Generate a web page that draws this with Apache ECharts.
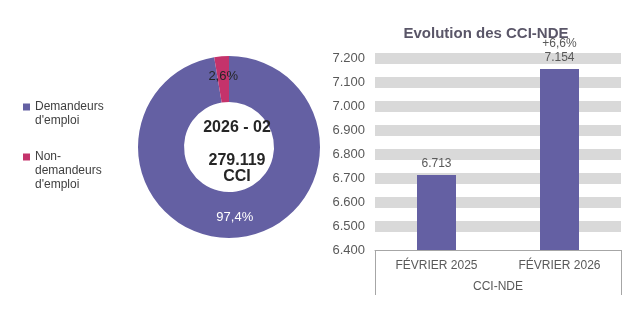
<!DOCTYPE html>
<html><head><meta charset="utf-8">
<script src="https://cdn.jsdelivr.net/npm/echarts@6/dist/echarts.min.js"></script>
<style>html,body{margin:0;padding:0;background:#fff}#c{width:643px;height:321px}</style>
</head><body><div id="c"></div>
<script>
const pieNames = ["Demandeurs d'emploi", "Non-demandeurs d'emploi"];
const pieValues = [97.4, 2.6];
const pieLabels = ["97,4%", "2,6%"];
const centerLines = ["2026 - 02", "279.119", "CCI"];
const barCategories = ["FÉVRIER 2025", "FÉVRIER 2026"];
const barValues = [6713, 7154];
const barLabels = ["6.713", "+6,6%\n7.154"];
const groupCategory = ["CCI-NDE"];
const yMin = 6400, yMax = 7200, yStep = 100;

const PURPLE = '#6460a3', PINK = '#c4336b', TXT = '#595959';
const fmt = v => String(v).replace(/\B(?=(\d{3})+(?!\d))/g, '.');
const legendText = {};
legendText[pieNames[0]] = "\nDemandeurs\nd'emploi";
legendText[pieNames[1]] = "\n\nNon-\ndemandeurs\nd'emploi";

const chart = echarts.init(document.getElementById('c'), null, {renderer: 'canvas'});
chart.setOption({
  animation: false,
  textStyle: {fontFamily: 'Liberation Sans, Arial, sans-serif'},
  title: [
    {text: 'Evolution des CCI-NDE', left: 481, top: 21, textAlign: 'center',
     textStyle: {fontSize: 15, fontWeight: 'bold', color: '#5a5668'}},
    {text: centerLines[0], left: 232, top: 115, textAlign: 'center',
     textStyle: {fontSize: 16, fontWeight: 'bold', color: '#262626'}},
    {text: centerLines[1] + '\n' + centerLines[2], left: 232, top: 148, textAlign: 'center',
     textStyle: {fontSize: 16, fontWeight: 'bold', color: '#262626', lineHeight: 16}}
  ],
  legend: [
    {data: [pieNames[0]], orient: 'vertical', left: 23, top: 86, padding: 0, icon: 'rect', itemWidth: 7, itemHeight: 7,
     formatter: n => legendText[n], textStyle: {fontSize: 12, color: '#404040', lineHeight: 14}},
    {data: [pieNames[1]], orient: 'vertical', left: 23, top: 122, padding: 0, icon: 'rect', itemWidth: 7, itemHeight: 7,
     formatter: n => legendText[n], textStyle: {fontSize: 12, color: '#404040', lineHeight: 14}}
  ],
  grid: {left: 375, right: 22, top: 58, bottom: 71, containLabel: false},
  xAxis: [
    {type: 'category', data: barCategories, position: 'bottom',
     axisLine: {show: true, lineStyle: {color: '#a6a6a6', width: 1}},
     axisTick: {show: false},
     axisLabel: {color: TXT, fontSize: 12, margin: 10}},
    {type: 'category', data: groupCategory, position: 'bottom', offset: 0,
     axisLine: {show: false},
     axisTick: {show: true, length: 45, alignWithLabel: false, lineStyle: {color: '#a6a6a6', width: 1}},
     axisLabel: {color: TXT, fontSize: 12, margin: 31}}
  ],
  yAxis: {type: 'value', min: yMin, max: yMax, interval: yStep,
    axisLine: {show: false}, axisTick: {show: false},
    axisLabel: {color: TXT, fontSize: 13, margin: 10, formatter: v => fmt(v)},
    splitLine: {show: true, showMinLine: false, lineStyle: {color: '#d9d9d9', width: 11}}},
  series: [
    {type: 'pie', center: [229, 147], radius: [45, 91], startAngle: 90, clockwise: true,
     avoidLabelOverlap: false,
     label: {show: true, position: 'inside', fontSize: 13},
     labelLine: {show: false},
     emphasis: {disabled: true},
     data: pieNames.map((n, i) => ({name: n, value: pieValues[i],
       itemStyle: {color: i === 0 ? PURPLE : PINK},
       label: {formatter: pieLabels[i], color: i === 0 ? '#ffffff' : '#262626'}}))},
    {type: 'bar', xAxisIndex: 0, barWidth: 39, z: 3,
     itemStyle: {color: PURPLE},
     label: {show: true, position: 'top', distance: 4, color: TXT, fontSize: 12, lineHeight: 14,
       formatter: p => barLabels[p.dataIndex]},
     data: barValues}
  ]
});
</script></body></html>
